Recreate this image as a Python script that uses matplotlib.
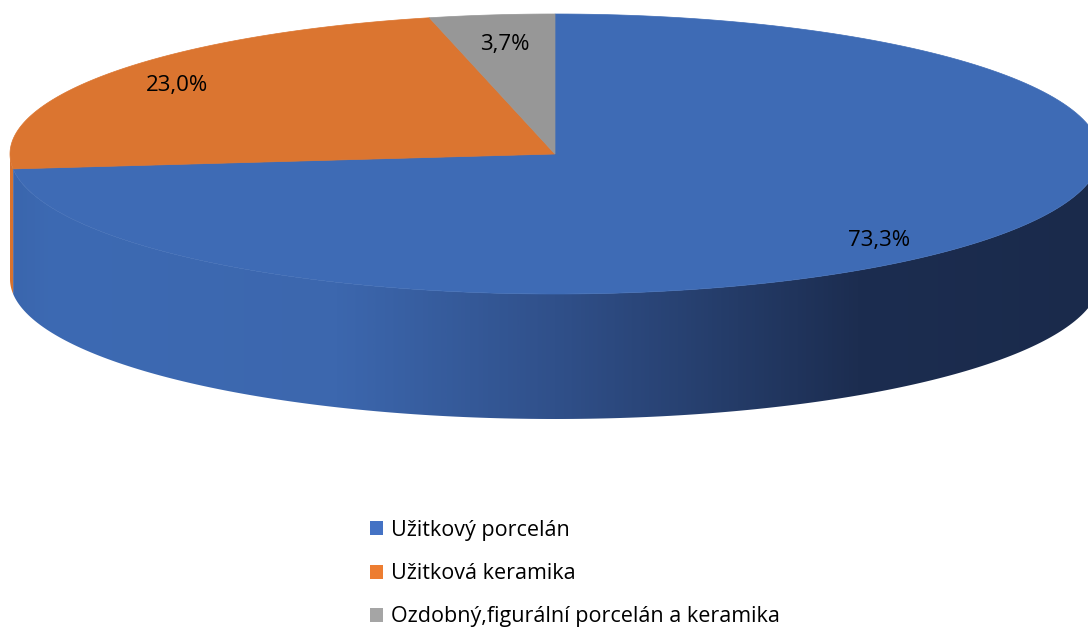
import numpy as np
import matplotlib
matplotlib.use("Agg")
import matplotlib.pyplot as plt
from matplotlib.patches import Polygon, Patch
from matplotlib.colors import LinearSegmentedColormap

plt.rcParams['font.family'] = ['Open Sans', 'DejaVu Sans']

categories = ['Užitkový porcelán', 'Užitková keramika', 'Ozdobný,figurální porcelán a keramika']
shares = [73.3, 23.0, 3.7]
labels = ['73,3%', '23,0%', '3,7%']
top_colors = ['#3E6BB5', '#DB7530', '#979797']
legend_colors = ['#4472C4', '#ED7D31', '#A5A5A5']

# pie geometry in pixel coords
cx, cy = 555, 154
a, b = 545, 140
depth = 125

fig = plt.figure(figsize=(10.88, 6.28), dpi=100)
ax = fig.add_axes([0, 0, 1, 1])
ax.set_xlim(0, 1088)
ax.set_ylim(628, 0)
ax.axis('off')


def rim(p0, p1, n=200):
    phi = np.radians(np.linspace(p0, p1, n))
    return cx + a * np.cos(phi), cy - b * np.sin(phi)


# slice angles, clockwise from 12 o'clock
fr = np.array(shares) / sum(shares)
starts = 90 - 360 * np.concatenate([[0], np.cumsum(fr)[:-1]])
ends = starts - 360 * fr

# side walls (front half only: phi in [-180, 0])
wall_cmaps = [
    LinearSegmentedColormap.from_list('bw', [(0, '#3A66AD'), (0.04, '#3D6AB3'), (0.3, '#3C67AE'),
                                             (0.5, '#30508A'), (0.78, '#1C2D50'),
                                             (1, '#1A2A4B')]),
    LinearSegmentedColormap.from_list('ow', ['#D8722E', '#D8722E']),
    LinearSegmentedColormap.from_list('gw', ['#909090', '#909090']),
]
grad = np.linspace(0, 1, 512)[None, :]
for s, e, cm in zip(starts, ends, wall_cmaps):
    lo, hi = e, s
    for shift in (0, -360, 360):
        p1, p0 = max(lo + shift, -180), min(hi + shift, 0)
        if p1 < p0:
            xs, ys = rim(p0, p1)
            poly = np.column_stack([np.r_[xs, xs[::-1]], np.r_[ys, ys[::-1] + depth]])
            patch = Polygon(poly, closed=True, facecolor='none', edgecolor='none')
            ax.add_patch(patch)
            im = ax.imshow(grad, cmap=cm, aspect='auto',
                           extent=[cx - a, cx + a, cy + b + depth, cy - b], zorder=1)
            im.set_clip_path(patch)

# top faces
for s, e, c in zip(starts, ends, top_colors):
    xs, ys = rim(s, e)
    poly = np.column_stack([np.r_[cx, xs], np.r_[cy, ys]])
    ax.add_patch(Polygon(poly, closed=True, facecolor=c, edgecolor=c, lw=0.5, zorder=2))

# data labels
label_r = [0.8, 0.85, 0.8]
label_dy = [12, 0, 2]
for s, e, t, r, dy in zip(starts, ends, labels, label_r, label_dy):
    m = np.radians((s + e) / 2)
    ax.text(cx + r * a * np.cos(m), cy - r * b * np.sin(m) + dy,
            t, ha='center', va='center', fontsize=16, color='#000000', zorder=3)

handles = [Patch(facecolor=c, edgecolor='none') for c in legend_colors]
fig.legend(handles, categories, loc='upper left', bbox_to_anchor=(370 / 1088, 1 - 520 / 628),
           frameon=False, fontsize=15.5, handlelength=0.62, handleheight=0.62,
           handletextpad=0.35, labelspacing=1.03, borderpad=0, borderaxespad=0)

fig.savefig('out.png', dpi=100)
